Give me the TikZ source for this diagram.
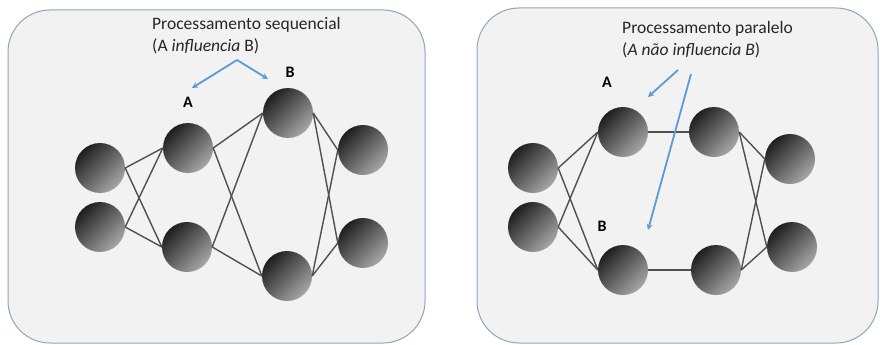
\documentclass[tikz,border=0pt]{standalone}
\usepackage{fontspec}
\setmainfont{Carlito}
\usetikzlibrary{arrows.meta}
\definecolor{panelfill}{HTML}{F2F2F2}
\definecolor{panelline}{HTML}{8EA6BC}
\definecolor{arrowblue}{HTML}{5B9BD5}
\definecolor{edgegray}{HTML}{505050}
\definecolor{textgray}{HTML}{262626}
\begin{document}
\begin{tikzpicture}[x=1pt,y=-1pt,
  panel/.style={draw=panelline, fill=panelfill, line width=1pt, rounded corners=42pt},
  ball/.style={circle, inner sep=0pt, minimum size=50pt,
    top color=black!88, bottom color=black!35, shading angle=45},
  link/.style={draw=edgegray, line width=1.4pt},
  pointer/.style={draw=arrowblue, line width=1.8pt, -{Stealth[length=6pt,width=6pt]}},
  title/.style={anchor=base west, font=\fontsize{17.5}{20}\selectfont, inner sep=0pt, text=textgray},
  letter/.style={font=\fontsize{16}{18}\selectfont\bfseries, inner sep=0pt, text=black}]
\useasboundingbox (0,0) rectangle (880,345);
\fill[white] (0,0) rectangle (880,345);
% panels
\path[panel] (8,10) rectangle (425,343);
\path[panel] (477,8) rectangle (878,343);

% ---- left panel ----
\node[ball] (l1) at (100,168) {};
\node[ball] (l2) at (100,227) {};
\node[ball] (a1) at (188,148) {};
\node[ball] (a2) at (187,247) {};
\node[ball] (b1) at (288,113) {};
\node[ball] (b2) at (287,276) {};
\node[ball] (r1) at (363,150) {};
\node[ball] (r2) at (363,243) {};
\foreach \s/\t in {l1/a1,l1/a2,l2/a1,l2/a2,a1/b1,a1/b2,a2/b1,a2/b2,b1/r1,b1/r2,b2/r1,b2/r2}
  \draw[link] (\s.east) -- (\t.west);

\node[title] (t1) at (152,30) {Processamento sequencial};
\node[title] (t2) at (152,52) {(A \textit{influencia} B)};
\node[letter] (la) at (188,102) {A};
\node[letter] (lb) at (290,72) {B};
\coordinate (apex) at (237,60);
\coordinate (tipa) at (192,88);
\coordinate (tipb) at (268,79);
\draw[pointer] (apex) -- (tipa);
\draw[pointer] (apex) -- (tipb);

% ---- right panel ----
\node[ball] (p1) at (533,168) {};
\node[ball] (p2) at (533,227) {};
\node[ball] (pa) at (623,132) {};
\node[ball] (pb) at (623,270) {};
\node[ball] (pc) at (714,132) {};
\node[ball] (pd) at (716,270) {};
\node[ball] (q1) at (790,159) {};
\node[ball] (q2) at (792,247) {};
\foreach \s/\t in {p1/pa,p1/pb,p2/pa,p2/pb,pa/pc,pb/pd,pc/q1,pc/q2,pd/q1,pd/q2}
  \draw[link] (\s.east) -- (\t.west);

\node[title] (u1) at (622,34) {Processamento paralelo};
\node[title] (u2) at (622,56) {(\textit{A não influencia B})};
\node[letter] (ma) at (607,82) {A};
\node[letter] (mb) at (602,226) {B};
\coordinate (s1) at (678,70);
\coordinate (e1) at (648,97);
\coordinate (s2) at (691,74);
\coordinate (e2) at (648,230);
\draw[pointer] (s1) -- (e1);
\draw[pointer] (s2) -- (e2);
\end{tikzpicture}
\end{document}
